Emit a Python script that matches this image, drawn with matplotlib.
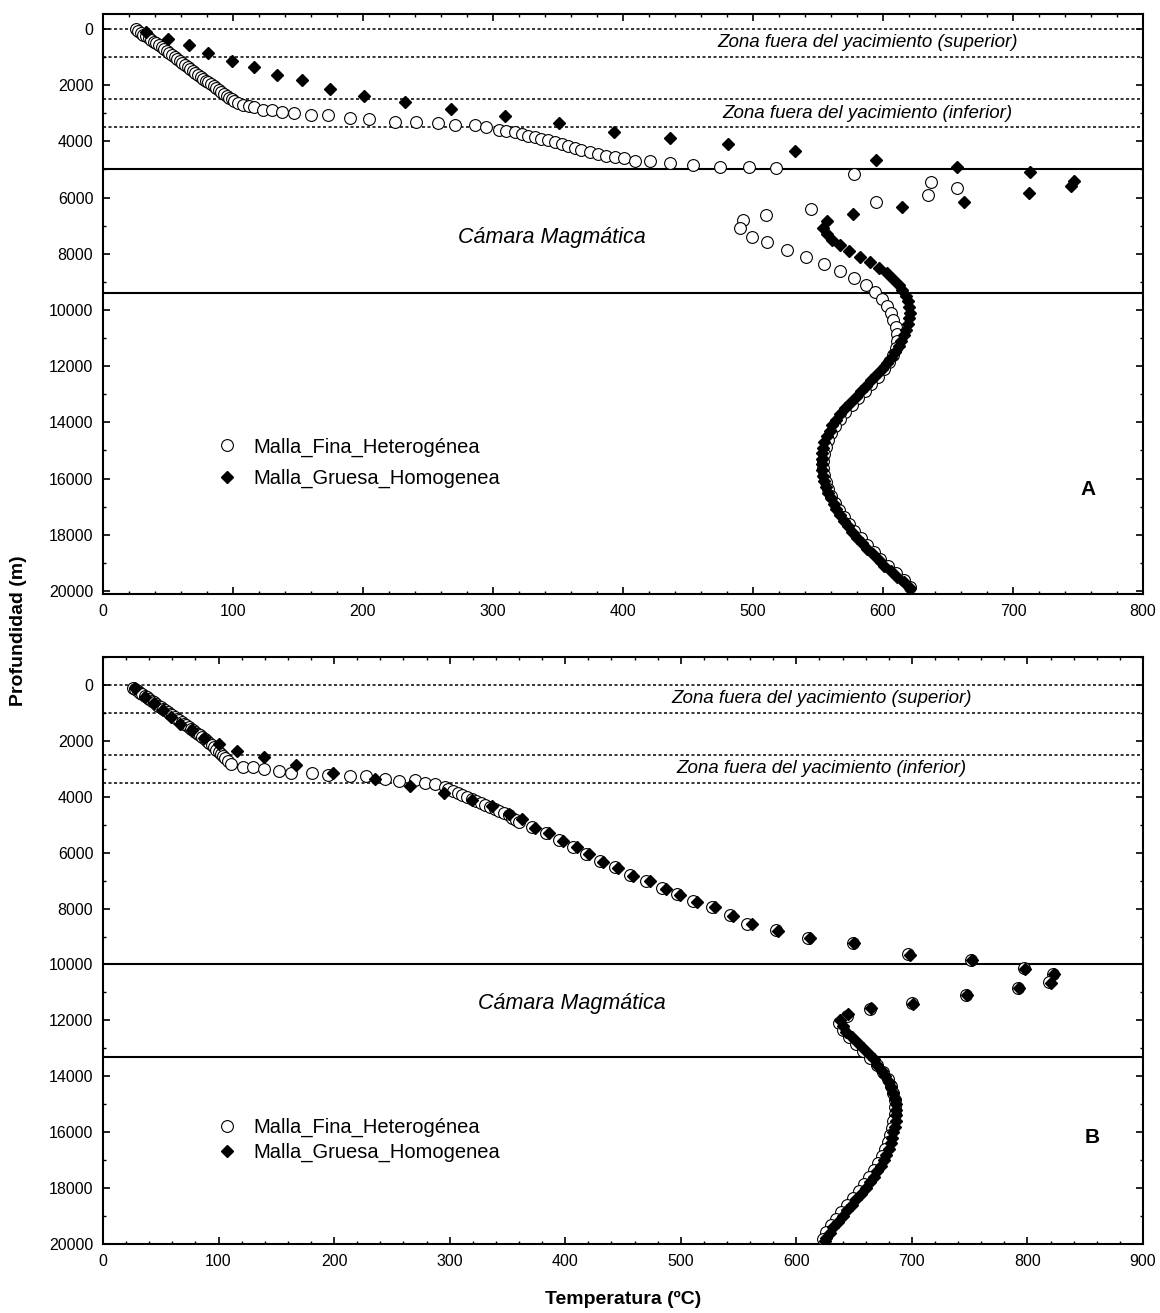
import numpy as np
import matplotlib.pyplot as plt
from matplotlib.ticker import MultipleLocator

plt.rcParams['font.family'] = ['Liberation Sans', 'DejaVu Sans']

LBL_FINA = 'Malla_Fina_Heterogénea'
LBL_GRUESA = 'Malla_Gruesa_Homogenea'

# ---------------- panel A ----------------
a_fina_t = [25, 27, 29, 31, 33, 35, 37, 39, 41, 43, 45, 47, 49, 51, 53, 55, 57, 59, 61, 63,
            65, 67, 69, 71, 73, 75, 77, 79, 81, 83, 85, 87, 89, 91, 93, 95, 97, 99, 101, 104,
            108, 112, 116, 123, 130, 138, 147, 160, 173, 190, 205, 225, 241, 258, 271, 286,
            295, 305, 310, 317, 322, 327, 332, 337, 342, 348, 353, 358, 363, 368, 375, 381,
            387, 394, 401, 409, 421, 436, 454, 475, 497, 518, 578, 637, 657, 635, 595, 545,
            510, 492, 490, 499, 511, 526, 541, 555, 567, 578, 587, 594, 599, 603, 606, 608,
            610, 611, 611, 610, 608, 605, 601, 596, 591, 586, 581, 576, 571, 567, 563, 560,
            558, 556, 555, 554, 554, 555, 556, 558, 560, 563, 566, 570, 574, 578, 583, 588,
            593, 598, 604, 610, 616, 621]
a_fina_d = [0, 65, 130, 200, 265, 330, 390, 450, 510, 570, 630, 700, 775, 850, 920, 990, 1060,
            1135, 1210, 1285, 1360, 1430, 1505, 1580, 1645, 1710, 1775, 1840, 1905, 1970, 2035,
            2100, 2170, 2240, 2310, 2375, 2440, 2505, 2570, 2650, 2710, 2760, 2790, 2880, 2880,
            2960, 3000, 3070, 3070, 3160, 3210, 3300, 3300, 3360, 3430, 3420, 3500, 3580, 3630,
            3680, 3740, 3810, 3860, 3910, 3970, 4030, 4090, 4160, 4220, 4300, 4370, 4450, 4510,
            4570, 4610, 4690, 4690, 4760, 4840, 4900, 4900, 4960, 5150, 5450, 5650, 5900, 6150,
            6400, 6620, 6800, 7090, 7390, 7600, 7860, 8120, 8370, 8620, 8870, 9120, 9370, 9620,
            9870, 10120, 10370, 10620, 10870, 11120, 11370, 11620, 11870, 12120, 12370, 12620,
            12870, 13120, 13370, 13620, 13870, 14120, 14370, 14620, 14870, 15120, 15370, 15620,
            15870, 16120, 16370, 16620, 16870, 17120, 17370, 17620, 17870, 18120, 18370, 18620,
            18870, 19120, 19370, 19620, 19850]

a_gruesa_t = [33, 50, 66, 81, 99, 116, 134, 153, 175, 201, 232, 268, 309, 351, 393, 436, 481,
              532, 595, 657, 713, 747, 745, 712, 662, 615, 577, 557, 554, 557, 561, 567, 574,
              582, 590, 597, 603, 608, 612, 615, 618, 619, 620, 621, 620, 619, 618, 616, 614,
              612, 609, 606, 603, 599, 595, 591, 587, 583, 579, 575, 571, 567, 564, 561, 559,
              557, 555, 554, 553, 553, 553, 553, 554, 555, 556, 558, 560, 562, 564, 567, 570,
              573, 576, 580, 584, 588, 592, 597, 601, 606, 611, 616, 621]
a_gruesa_d = [95, 370, 570, 870, 1140, 1360, 1640, 1810, 2120, 2380, 2610, 2860, 3090, 3360,
              3650, 3870, 4100, 4340, 4650, 4900, 5100, 5400, 5600, 5850, 6150, 6350, 6600,
              6850, 7100, 7300, 7500, 7700, 7900, 8100, 8300, 8500, 8700, 8900, 9100, 9300,
              9500, 9700, 9900, 10100, 10300, 10500, 10700, 10900, 11100, 11300, 11500, 11700,
              11900, 12100, 12300, 12500, 12700, 12900, 13100, 13300, 13500, 13700, 13900,
              14100, 14300, 14500, 14700, 14900, 15100, 15300, 15500, 15700, 15900, 16100,
              16300, 16500, 16700, 16900, 17100, 17300, 17500, 17700, 17900, 18100, 18300,
              18500, 18700, 18900, 19100, 19300, 19500, 19700, 19900]

# ---------------- panel B ----------------
b_fina_t = [26, 28, 30, 32, 34, 36, 38, 40, 42, 44, 46, 48, 50, 52, 54, 56, 58, 60, 62, 64,
            66, 68, 70, 72, 74, 76, 78, 80, 82, 84, 86, 88, 90, 92, 94, 96, 98, 100, 102, 104,
            106, 108, 111, 121, 130, 139, 152, 163, 181, 195, 214, 228, 244, 256, 270, 279,
            287, 296, 299, 303, 307, 311, 315, 319, 323, 327, 331, 335, 339, 343, 347, 351,
            354, 357, 360, 371, 383, 395, 407, 418, 430, 443, 456, 470, 484, 497, 511, 527,
            543, 557, 582, 610, 649, 697, 751, 797, 822, 819, 792, 747, 700, 664, 644, 637,
            640, 646, 652, 658, 664, 670, 675, 679, 682, 684, 685, 685, 685, 684, 683, 681,
            679, 677, 674, 671, 667, 663, 659, 654, 649, 644, 639, 634, 630, 626, 623]
b_fina_d = [95, 150, 210, 270, 330, 385, 440, 500, 560, 620, 680, 740, 795, 850, 910, 970, 1030,
            1090, 1150, 1210, 1270, 1330, 1385, 1440, 1500, 1560, 1620, 1680, 1740, 1800, 1860,
            1920, 1990, 2070, 2150, 2230, 2310, 2390, 2470, 2550, 2630, 2710, 2830, 2950, 2930,
            3010, 3070, 3150, 3150, 3210, 3270, 3250, 3350, 3430, 3390, 3490, 3550, 3640, 3730,
            3800, 3870, 3940, 4010, 4080, 4150, 4220, 4290, 4360, 4430, 4510, 4590, 4670, 4750,
            4840, 4920, 5080, 5290, 5550, 5790, 6030, 6300, 6530, 6800, 7000, 7280, 7490, 7720,
            7930, 8230, 8540, 8780, 9040, 9240, 9640, 9840, 10140, 10340, 10640, 10840, 11090,
            11390, 11590, 11840, 12090, 12340, 12590, 12840, 13090, 13340, 13590, 13840, 14090,
            14340, 14590, 14840, 15090, 15340, 15590, 15840, 16090, 16340, 16590, 16840, 17090,
            17340, 17590, 17840, 18090, 18340, 18590, 18840, 19090, 19340, 19590, 19840]

b_gruesa_t = [28, 36, 44, 52, 59, 67, 77, 87, 100, 116, 139, 167, 199, 235, 266, 295, 319, 337,
              351, 363, 374, 386, 398, 410, 421, 433, 446, 459, 473, 487, 499, 514, 530, 545,
              562, 584, 612, 650, 698, 752, 798, 823, 820, 793, 748, 701, 665, 645, 638, 640,
              643, 648, 653, 658, 663, 667, 670, 674, 677, 680, 682, 684, 685, 686, 686, 686,
              686, 685, 684, 683, 682, 680, 678, 676, 673, 670, 667, 664, 660, 656, 652, 648,
              644, 640, 636, 632, 629, 626, 625]
b_gruesa_d = [120, 430, 630, 890, 1140, 1400, 1600, 1880, 2100, 2380, 2570, 2860, 3150, 3350,
              3630, 3850, 4120, 4320, 4600, 4800, 5100, 5310, 5570, 5810, 6050, 6320, 6550, 6820,
              7020, 7300, 7510, 7760, 7960, 8250, 8550, 8790, 9040, 9250, 9650, 9850, 10150,
              10350, 10650, 10850, 11100, 11400, 11570, 11780, 12000, 12200, 12400, 12600,
              12800, 13000, 13200, 13400, 13600, 13800, 14000, 14200, 14400, 14600, 14800,
              15000, 15200, 15400, 15600, 15800, 16000, 16200, 16400, 16600, 16800, 17000,
              17200, 17400, 17600, 17800, 18000, 18200, 18400, 18600, 18800, 19000, 19200,
              19400, 19600, 19800, 19900]

# zone boundaries (m)
dotted_depths = [0, 1000, 2500, 3500]
a_solid_depths = [5000, 9400]
b_solid_depths = [10000, 13300]


def draw_panel(ax, fina_t, fina_d, gruesa_t, gruesa_d, solid_depths, xmax, ylim,
               zona_x, camara_xy, letter_xy, letter, leg_anchor, leg_spacing):
    for d in dotted_depths:
        ax.axhline(d, color='black', lw=1.1, ls=(0, (2.0, 1.6)), zorder=1)
    for d in solid_depths:
        ax.axhline(d, color='black', lw=1.5, zorder=1)
    ax.plot(fina_t, fina_d, 'o', ls='none', mfc='white', mec='black', mew=0.8, ms=8.5,
            label=LBL_FINA, zorder=3)
    ax.plot(gruesa_t, gruesa_d, 'D', ls='none', mfc='black', mec='black', ms=6.3,
            label=LBL_GRUESA, zorder=4)
    ax.set_xlim(0, xmax)
    ax.set_ylim(*ylim)
    ax.xaxis.set_major_locator(MultipleLocator(100))
    ax.xaxis.set_minor_locator(MultipleLocator(20))
    ax.yaxis.set_major_locator(MultipleLocator(2000))
    ax.yaxis.set_minor_locator(MultipleLocator(1000))
    ax.tick_params(which='both', direction='in', top=True, right=True, labelsize=11.5)
    ax.tick_params(which='major', length=5, width=1.2, pad=7)
    ax.tick_params(which='minor', length=2.5, width=1.0)
    for s in ax.spines.values():
        s.set_linewidth(1.5)
    ax.text(zona_x, 480, 'Zona fuera del yacimiento (superior)', style='italic',
            fontsize=13.5, ha='center', va='center')
    ax.text(zona_x, 3000, 'Zona fuera del yacimiento (inferior)', style='italic',
            fontsize=13.5, ha='center', va='center')
    ax.text(camara_xy[0], camara_xy[1], 'Cámara Magmática', style='italic',
            fontsize=15.5, ha='center', va='center')
    ax.text(letter_xy[0], letter_xy[1], letter, fontweight='bold', fontsize=15,
            ha='center', va='center')
    ax.legend(loc='upper left', bbox_to_anchor=leg_anchor, frameon=False, fontsize=14.5,
              borderpad=0, borderaxespad=0, handlelength=1.0, handletextpad=0.8,
              labelspacing=leg_spacing)


fig = plt.figure(figsize=(11.6, 13.13), dpi=100)
ax1 = fig.add_axes([0.0888, 0.5476, 0.8965, 0.4417])
ax2 = fig.add_axes([0.0888, 0.0526, 0.8965, 0.4470])

draw_panel(ax1, a_fina_t, a_fina_d, a_gruesa_t, a_gruesa_d, a_solid_depths, 800,
           (20110, -530), 588, (345, 7440), (758, 16400), 'A', (0.11, 0.27), 0.6)
draw_panel(ax2, b_fina_t, b_fina_d, b_gruesa_t, b_gruesa_d, b_solid_depths, 900,
           (20000, -1000), 622, (406, 11390), (856, 16180), 'B', (0.11, 0.215), 0.3)

fig.text(0.016, 0.52, 'Profundidad (m)', rotation=90, fontweight='bold', fontsize=14,
         ha='center', va='center')
fig.text(0.537, 0.01, 'Temperatura (ºC)', fontweight='bold', fontsize=14,
         ha='center', va='center')

fig.savefig('out.png', dpi=100)
